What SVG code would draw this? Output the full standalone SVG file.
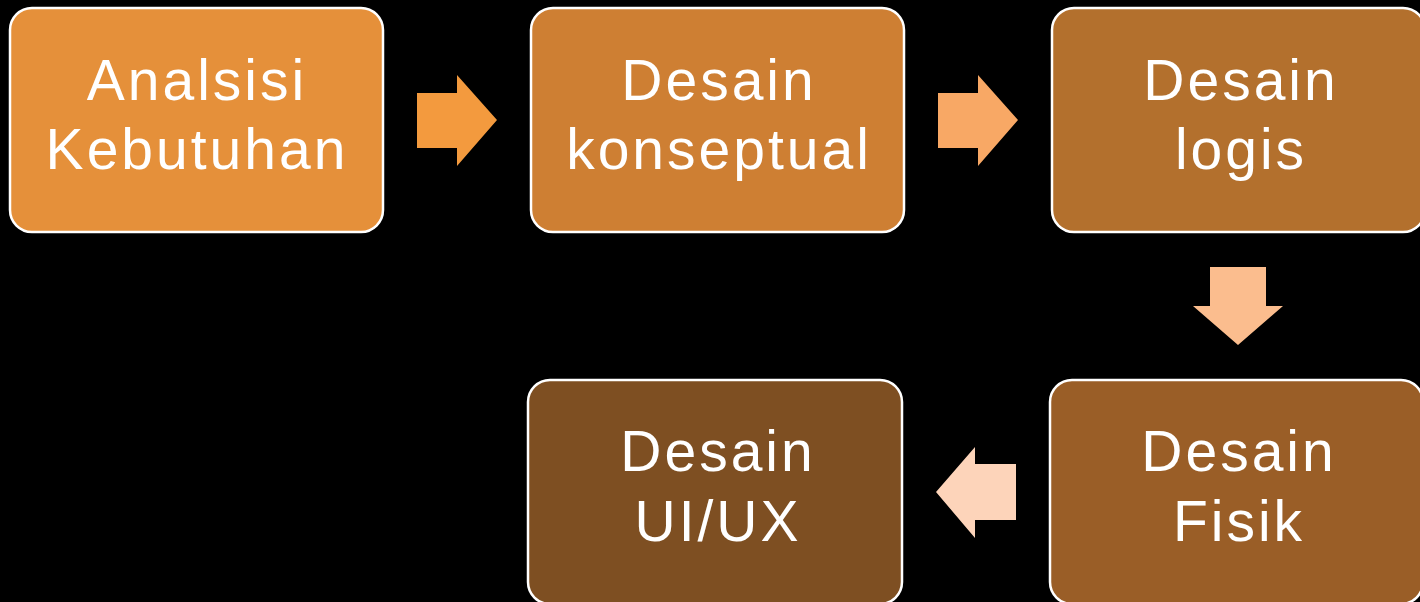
<svg xmlns="http://www.w3.org/2000/svg" width="1420" height="602" viewBox="0 0 1420 602">
<style>
.box{stroke:#FFFFFF;stroke-width:2.5}
.lbl{font-family:"Liberation Sans","Arial",sans-serif;font-size:57px;fill:#FFFFFF;text-anchor:middle;letter-spacing:3px}
</style>
<rect x="0" y="0" width="1420" height="602" fill="#000000"/>
<g id="connectors">
<polygon id="arrow1" points="417,93 457,93 457,75 497,120 457,166 457,148 417,148" fill="#F39A3E"/>
<polygon id="arrow2" points="938,93 978,93 978,75 1018,120 978,166 978,148 938,148" fill="#F8A865"/>
<polygon id="arrow3" points="1210,267 1266,267 1266,306 1283,306 1238,345 1193,306 1210,306" fill="#FBBD8E"/>
<polygon id="arrow4" points="1016,464 975,464 975,447 936,492 975,538 975,520 1016,520" fill="#FDD4BA"/>
</g>
<g id="node1">
<rect class="box" x="10" y="8" width="373" height="224" rx="22" fill="#E5903A"/>
<text class="lbl" x="197" y="100">Analsisi</text>
<text class="lbl" x="197" y="169">Kebutuhan</text>
</g>
<g id="node2">
<rect class="box" x="531" y="8" width="373" height="224" rx="22" fill="#CE7F33"/>
<text class="lbl" x="719" y="100">Desain</text>
<text class="lbl" x="719" y="169">konseptual</text>
</g>
<g id="node3">
<rect class="box" x="1052" y="8" width="373" height="224" rx="22" fill="#B3702D"/>
<text class="lbl" x="1241" y="100">Desain</text>
<text class="lbl" x="1241" y="169">logis</text>
</g>
<g id="node4">
<rect class="box" x="1050" y="380" width="373" height="224" rx="22" fill="#9A5E27"/>
<text class="lbl" x="1239" y="471">Desain</text>
<text class="lbl" x="1239" y="541">Fisik</text>
</g>
<g id="node5">
<rect class="box" x="528" y="380" width="374" height="224" rx="22" fill="#7E4F22"/>
<text class="lbl" x="718" y="471">Desain</text>
<text class="lbl" x="718" y="541">UI/UX</text>
</g>
</svg>
